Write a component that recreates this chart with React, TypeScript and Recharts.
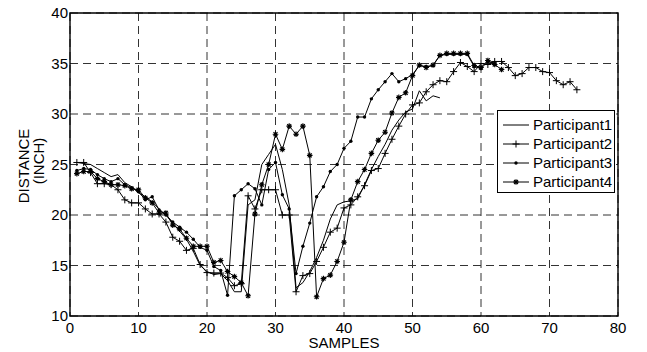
import { CartesianGrid, Legend, Line, LineChart, ReferenceArea, XAxis, YAxis } from 'recharts';

// distance (inch) per sample, samples start at 1
const participant1 = [
  25.2, 25.1, 25.0, 24.6, 24.2, 23.8, 24.0, 23.2, 22.8, 22.2,
  21.8, 21.3, 20.6, 20.0, 19.2, 18.4, 17.6, 16.4, 15.0, 14.4,
  14.1, 14.2, 13.5, 12.4, 12.4, 21.0, 21.5, 25.0, 26.0, 27.0,
  24.5, 21.0, 12.8, 13.3, 14.4, 15.8, 17.5, 19.6, 21.0, 21.3,
  21.4, 21.6, 23.0, 24.5, 25.8, 27.0, 28.4, 29.4, 30.2, 30.5,
  32.3, 31.3, 31.8, 31.6,
];

const participant2 = [
  25.2, 25.2, 24.2, 23.1, 23.1, 23.0, 22.5, 21.5, 21.2, 21.2,
  20.6, 20.1, 20.1, 19.3, 17.8, 17.4, 16.5, 16.7, 15.1, 14.3,
  14.25, 14.25, 13.8, 13.0, 13.2, 21.9, 20.6, 22.5, 22.5, 22.5,
  20.0, 20.0, 12.4, 14.0, 14.2, 15.4, 16.8, 18.3, 18.7, 20.7,
  21.0, 21.8, 22.9, 24.4, 24.6, 26.1, 27.5, 28.8, 30.0, 30.9,
  31.1, 32.2, 32.9, 33.3, 33.2, 34.2, 35.1, 34.7, 34.2, 35.0,
  34.9, 35.2, 35.2, 34.6, 33.8, 34.0, 34.6, 34.6, 34.2, 34.1,
  33.3, 32.9, 33.2, 32.4,
];

const participant3 = [
  24.4, 24.6, 24.5, 24.0, 23.6, 23.3, 23.6, 23.0, 22.7, 22.3,
  21.5, 21.8, 20.5, 20.0, 19.3, 18.8, 18.3, 17.6, 16.8, 16.5,
  14.9, 14.5, 12.05, 21.9, 22.5, 23.1, 22.6, 21.0, 24.5, 25.2,
  22.0, 20.6, 14.2, 16.9, 19.2, 21.8, 22.8, 24.3, 25.0, 26.6,
  27.3, 29.7, 29.7, 31.5, 32.4, 33.2, 34.0, 33.2, 33.5, 33.9,
  34.8, 34.7, 34.8, 35.8, 35.9, 35.9, 35.9, 35.9, 34.7, 34.5,
  35.2, 35.0,
];

const participant4 = [
  24.1, 24.3, 24.3, 23.6, 23.3, 23.0, 23.0, 22.9, 22.6, 22.5,
  21.7, 21.2, 20.2, 20.2, 19.0, 18.6, 17.7, 16.9, 16.9, 16.9,
  15.3, 15.5, 14.4, 13.9, 13.3, 12.0, 20.1, 23.0, 25.0, 28.0,
  26.5, 28.8, 28.0, 28.8, 25.9, 11.9, 13.7, 14.05, 15.4, 17.3,
  21.5, 23.3, 24.5, 26.1, 27.4, 28.2, 30.1, 31.65, 32.1, 33.8,
  34.85, 34.6, 34.85, 35.8, 36.0, 36.0, 36.0, 36.0, 34.8, 34.6,
  35.3, 34.9, 34.4,
];

const xTicks = [0, 10, 20, 30, 40, 50, 60, 70, 80];
const yTicks = [10, 15, 20, 25, 30, 35, 40];
const seriesNames = ['Participant1', 'Participant2', 'Participant3', 'Participant4'];

const data = participant2.map((_, i) => ({
  sample: i + 1,
  p1: participant1[i] ?? null,
  p2: participant2[i] ?? null,
  p3: participant3[i] ?? null,
  p4: participant4[i] ?? null,
}));

const font = '"Liberation Sans", Arial, Helvetica, sans-serif';

const plusPath = (cx: number, cy: number, r = 3.5) =>
  `M${cx - r},${cy}H${cx + r}M${cx},${cy - r}V${cy + r}`;
const starPath = (cx: number, cy: number) =>
  `${plusPath(cx, cy, 2.8)}M${cx - 2},${cy - 2}L${cx + 2},${cy + 2}M${cx - 2},${cy + 2}L${cx + 2},${cy - 2}`;

const PlusDot = (props: any) => {
  const { cx, cy, index } = props;
  if (cx == null || cy == null || props.value == null) return <g key={`p-${index}`} />;
  return <path key={`p-${index}`} d={plusPath(cx, cy)} stroke="#000" strokeWidth={1} fill="none" />;
};

const SmallDot = (props: any) => {
  const { cx, cy, index } = props;
  if (cx == null || cy == null || props.value == null) return <g key={`d-${index}`} />;
  return <circle key={`d-${index}`} cx={cx} cy={cy} r={1.7} fill="#000" />;
};

const StarDot = (props: any) => {
  const { cx, cy, index } = props;
  if (cx == null || cy == null || props.value == null) return <g key={`s-${index}`} />;
  return <path key={`s-${index}`} d={starPath(cx, cy)} stroke="#000" strokeWidth={1.1} fill="none" />;
};

const legendMarkers = [
  () => null,
  () => <path d={plusPath(13, 7)} stroke="#000" strokeWidth={1} />,
  () => <circle cx={13} cy={7} r={1.7} fill="#000" />,
  () => <path d={starPath(13, 7)} stroke="#000" strokeWidth={1.1} />,
];

const LegendBox = () => (
  <div
    style={{
      border: '1px solid #000',
      background: '#fff',
      padding: '4px 0 1px 5px',
      fontFamily: font,
      fontSize: 15,
      color: '#000',
      boxSizing: 'border-box',
      width: 118,
    }}
  >
    {seriesNames.map((name, i) => (
      <div key={name} style={{ display: 'flex', alignItems: 'center', height: 19 }}>
        <svg width={27} height={14} style={{ marginRight: 3 }}>
          <line x1={0} y1={7} x2={26} y2={7} stroke="#000" strokeWidth={1} />
          {legendMarkers[i]()}
        </svg>
        <span>{name}</span>
      </div>
    ))}
  </div>
);

const App = () => (
  <div style={{ position: 'absolute', left: 0, top: 0, width: 647, height: 352, background: '#fff' }}>
    <LineChart width={647} height={352} data={data} margin={{ top: 13, right: 29, bottom: 0, left: 0 }}>
      <CartesianGrid stroke="#333" strokeDasharray="8 5" strokeWidth={1} />
      <XAxis
        dataKey="sample"
        type="number"
        domain={[0, 80]}
        ticks={xTicks}
        interval={0}
        height={36}
        tickSize={0}
        tickMargin={6}
        tickLine={false}
        axisLine={false}
        tick={{ fontSize: 15, fill: '#000', fontFamily: font }}
        label={{
          content: () => (
            <text x={344} y={348} textAnchor="middle" fontSize={15} fontFamily={font} fill="#000">
              SAMPLES
            </text>
          ),
        }}
      />
      <YAxis
        type="number"
        domain={[10, 40]}
        ticks={yTicks}
        interval={0}
        width={70}
        tickSize={0}
        tickMargin={2}
        tickLine={false}
        axisLine={false}
        tick={{ fontSize: 15, fill: '#000', fontFamily: font }}
        label={{
          content: () => (
            <g fontSize={15} fontFamily={font} fill="#000">
              <text x={28.5} y={166} textAnchor="middle" transform="rotate(-90, 28.5, 166)">
                DISTANCE
              </text>
              <text x={44} y={161} textAnchor="middle" transform="rotate(-90, 44, 161)">
                (INCH)
              </text>
            </g>
          ),
        }}
      />
      <ReferenceArea x1={0} x2={80} y1={10} y2={40} fill="none" stroke="#000" strokeWidth={1.4} ifOverflow="visible" />
      <Line dataKey="p1" name={seriesNames[0]} stroke="#000" strokeWidth={1} dot={false} activeDot={false} isAnimationActive={false} />
      <Line dataKey="p2" name={seriesNames[1]} stroke="#000" strokeWidth={1} dot={PlusDot} activeDot={false} isAnimationActive={false} />
      <Line dataKey="p3" name={seriesNames[2]} stroke="#000" strokeWidth={1} dot={SmallDot} activeDot={false} isAnimationActive={false} />
      <Line dataKey="p4" name={seriesNames[3]} stroke="#000" strokeWidth={1} dot={StarDot} activeDot={false} isAnimationActive={false} />
      <Legend
        layout="vertical"
        align="center"
        verticalAlign="middle"
        content={<LegendBox />}
        wrapperStyle={{ left: 497, top: 110, width: 118 }}
      />
    </LineChart>
  </div>
);

export default App;
